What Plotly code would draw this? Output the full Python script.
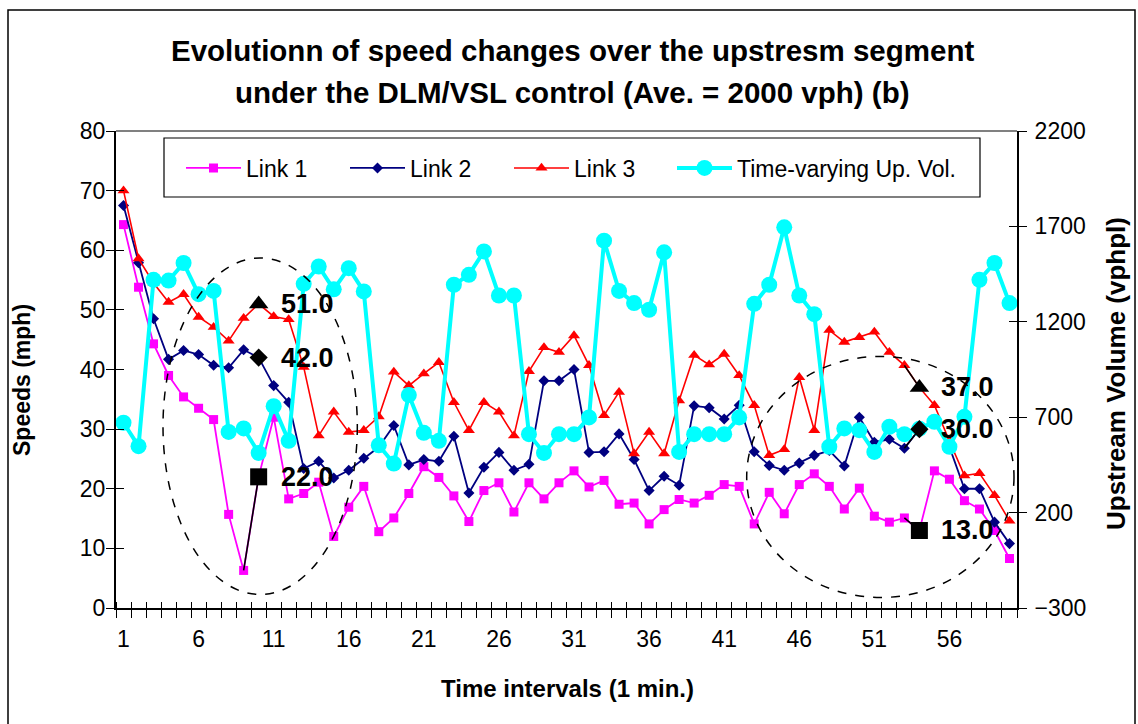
import plotly.graph_objects as go

# Time intervals (1-minute steps)
intervals = list(range(1, 61))
x_tick_vals = [1, 6, 11, 16, 21, 26, 31, 36, 41, 46, 51, 56]

# Link speeds (mph)
link1 = [64.3, 53.8, 44.3, 39.0, 35.4, 33.5, 31.6, 15.7, 6.3, 22.0,
         32.0, 18.3, 19.2, 21.1, 12.0, 16.9, 20.4, 12.8, 15.1, 19.2,
         23.7, 21.9, 18.8, 14.5, 19.7, 21.0, 16.1, 21.0, 18.3, 21.0,
         23.0, 20.3, 21.4, 17.4, 17.6, 14.1, 16.5, 18.2, 17.6, 18.9,
         20.7, 20.4, 14.1, 19.4, 15.8, 20.7, 22.5, 20.4, 16.6, 20.1,
         15.4, 14.4, 15.1, 13.0, 23.0, 21.6, 18.0, 16.6, 13.0, 8.3]
link2 = [67.5, 57.9, 48.5, 41.7, 43.2, 42.5, 40.7, 40.3, 43.3, 42.0,
         37.3, 34.5, 23.4, 24.6, 21.8, 23.1, 25.1, 27.0, 30.6, 24.0,
         24.9, 24.6, 28.8, 19.3, 23.6, 26.1, 23.1, 24.1, 38.1, 38.1,
         40.0, 26.1, 26.2, 29.2, 24.9, 19.7, 22.1, 20.6, 33.9, 33.6,
         31.7, 34.0, 26.2, 23.9, 23.1, 24.3, 25.6, 26.4, 23.8, 32.0,
         27.8, 28.3, 26.8, 30.0, 31.0, 27.0, 20.0, 20.0, 14.4, 10.8]
link3 = [70.0, 58.6, 54.5, 51.3, 52.6, 48.8, 47.1, 44.8, 48.6, 51.0,
         48.9, 48.4, 40.4, 28.9, 32.9, 29.5, 29.8, 32.1, 39.6, 37.3,
         39.3, 41.2, 34.5, 29.8, 34.5, 32.9, 28.9, 39.7, 43.7, 42.9,
         45.7, 40.7, 32.3, 36.2, 25.9, 29.5, 25.9, 34.8, 42.4, 40.8,
         42.6, 39.0, 34.0, 25.6, 26.6, 38.7, 29.8, 46.6, 44.6, 45.4,
         46.3, 42.9, 40.7, 37.0, 34.0, 28.0, 22.2, 22.6, 18.9, 14.6]

# Time-varying upstream volume (vphpl)
up_volume = [671, 548, 1420, 1416, 1508, 1345, 1362, 623, 641, 513,
             758, 576, 1399, 1490, 1370, 1481, 1359, 553, 457, 816,
             618, 576, 1394, 1446, 1569, 1338, 1338, 611, 513, 611,
             611, 699, 1625, 1362, 1298, 1263, 1564, 518, 611, 611,
             611, 699, 1294, 1394, 1695, 1338, 1240, 545, 641, 632,
             518, 650, 611, 640, 676, 545, 702, 1420, 1508, 1298]

# Intervals whose speeds are highlighted and labelled
highlight = [10, 54]

FONT = "Arial, Liberation Sans, sans-serif"

# Pixel frame of the plotting area
L, R, T, B = 116, 121, 131, 116
W, H = 1138, 724
PW, PH = W - L - R, H - T - B


def px(xp):
    return (xp - L) / PW


def py(yp):
    return (H - B - yp) / PH


fig = go.Figure()

series = [
    ("Link 1", link1, "#FF00FF", "square", 9, 1.8),
    ("Link 2", link2, "#000080", "diamond", 8.5, 1.8),
    ("Link 3", link3, "#FF0000", "triangle-up", 10.5, 1.6),
]
for name, vals, color, sym, size, lw in series:
    fig.add_trace(go.Scatter(
        x=intervals, y=vals, name=name, mode="lines+markers",
        line=dict(color=color, width=lw),
        marker=dict(symbol=sym, size=size, color=color, line=dict(width=0)),
        xaxis="x", yaxis="y", legend="legend"))

fig.add_trace(go.Scatter(
    x=intervals, y=up_volume, name="Time-varying Up. Vol.", mode="lines+markers",
    line=dict(color="#00FFFF", width=4),
    marker=dict(symbol="circle", size=16, color="#00FFFF", line=dict(width=0)),
    xaxis="x", yaxis="y2", legend="legend2"))

# Black segments leading into highlighted points
segs = [(link1, 10), (link1, 54), (link2, 54), (link3, 54)]
for vals, i in segs:
    fig.add_trace(go.Scatter(
        x=[i - 1, i], y=[vals[i - 2], vals[i - 1]], mode="lines",
        line=dict(color="black", width=1.6), showlegend=False,
        hoverinfo="skip", xaxis="x2", yaxis="y3"))

# Black highlighted markers
for vals, sym, size in [(link1, "square", 17), (link2, "diamond", 14),
                        (link3, "triangle-up", 17)]:
    fig.add_trace(go.Scatter(
        x=highlight, y=[vals[i - 1] for i in highlight], mode="markers",
        marker=dict(symbol=sym, size=size, color="black", line=dict(width=0)),
        showlegend=False, hoverinfo="skip", xaxis="x2", yaxis="y3"))

# Carrier for the inner tick marks of the right axis
fig.add_trace(go.Scatter(x=[], y=[], showlegend=False, hoverinfo="skip",
                         xaxis="x", yaxis="y4"))

annotations = []
for vals in (link1, link2, link3):
    for i in highlight:
        v = vals[i - 1]
        annotations.append(dict(
            x=i, y=v, xref="x", yref="y", text=f"{v:.1f}", showarrow=False,
            xanchor="left", yanchor="middle", xshift=20,
            font=dict(family=FONT, size=27, color="black", weight="bold")))

title_font = dict(family=FONT, size=29.5, color="black", weight="bold")
annotations += [
    dict(x=px(572), y=py(51), xref="paper", yref="paper", showarrow=False,
         text="Evolutionn of speed changes over the upstresm segment",
         font=title_font, xanchor="center", yanchor="middle"),
    dict(x=px(572), y=py(93), xref="paper", yref="paper", showarrow=False,
         text="under the DLM/VSL control (Ave. = 2000 vph) (b)",
         font=title_font, xanchor="center", yanchor="middle"),
    dict(x=px(22), y=py(380), xref="paper", yref="paper", showarrow=False,
         text="Speeds (mph)", textangle=-90,
         font=dict(family=FONT, size=23, color="black", weight="bold"),
         xanchor="center", yanchor="middle"),
    dict(x=px(1116), y=py(374), xref="paper", yref="paper", showarrow=False,
         text="Upstream Volume (vphpl)", textangle=-90,
         font=dict(family=FONT, size=26, color="black", weight="bold"),
         xanchor="center", yanchor="middle"),
    dict(x=px(567), y=py(688), xref="paper", yref="paper", showarrow=False,
         text="Time intervals (1 min.)",
         font=dict(family=FONT, size=24, color="black", weight="bold"),
         xanchor="center", yanchor="middle"),
]

shapes = [
    # chart frame
    dict(type="rect", xref="paper", yref="paper",
         x0=px(8), x1=px(1135), y0=py(10), y1=py(740),
         line=dict(color="black", width=1.5), fillcolor="rgba(0,0,0,0)",
         layer="below"),
    # plot-area top border
    dict(type="line", xref="paper", yref="paper", x0=0, x1=1, y0=1, y1=1,
         line=dict(color="#808080", width=2), layer="below"),
    # legend box
    dict(type="rect", xref="paper", yref="paper",
         x0=px(164), x1=px(980), y0=py(138), y1=py(197),
         line=dict(color="black", width=1.2), fillcolor="white", layer="below"),
    # dashed ellipses around the highlighted periods
    dict(type="circle", xref="x", yref="y", x0=3.63, x1=16.57, y0=2.27, y1=58.7,
         line=dict(color="black", width=1.5, dash="dash"), layer="above"),
    dict(type="circle", xref="x", yref="y", x0=42.5, x1=60.3, y0=1.76, y1=42.2,
         line=dict(color="black", width=1.5, dash="dash"), layer="above"),
]

tick_font = dict(family=FONT, size=23, color="black")
legend_font = dict(family=FONT, size=23, color="black")

fig.update_layout(
    width=W, height=H,
    margin=dict(l=L, r=R, t=T, b=B, pad=0),
    paper_bgcolor="white", plot_bgcolor="white",
    font=dict(family=FONT, color="black"),
    showlegend=True,
    legend=dict(orientation="h", x=px(181), y=py(168), xanchor="left",
                yanchor="middle", bgcolor="rgba(0,0,0,0)", borderwidth=0,
                font=legend_font, entrywidth=94, itemwidth=55),
    legend2=dict(orientation="h", x=px(672), y=py(168), xanchor="left",
                 yanchor="middle", bgcolor="rgba(0,0,0,0)", borderwidth=0,
                 font=legend_font, itemwidth=55),
    annotations=annotations,
    shapes=shapes,
    xaxis=dict(range=[0.5, 60.5], tickmode="array", tickvals=x_tick_vals,
               ticktext=[str(v) for v in x_tick_vals],
               ticks="outside", ticklen=0, tickfont=tick_font,
               ticklabelstandoff=9,
               minor=dict(tickmode="linear", tick0=0.5, dtick=1,
                          ticks="outside", ticklen=8, tickcolor="black",
                          tickwidth=1),
               showline=True, linecolor="black", linewidth=2,
               showgrid=False, zeroline=False, fixedrange=True),
    xaxis2=dict(range=[0.5, 60.5], overlaying="x", anchor="y3",
                showticklabels=False, ticks="", showline=False,
                minor=dict(tickmode="linear", tick0=0.5, dtick=1,
                           ticks="inside", ticklen=6, tickcolor="black",
                           tickwidth=1),
                showgrid=False, zeroline=False),
    yaxis=dict(range=[0, 80], tickmode="linear", tick0=0, dtick=10,
               ticks="outside", ticklen=8, tickcolor="black", tickwidth=1,
               tickfont=tick_font, ticklabelstandoff=-4,
               showline=True, linecolor="black",
               linewidth=2, showgrid=False, zeroline=False),
    yaxis2=dict(range=[-300, 2200], tickmode="linear", tick0=-300, dtick=500,
                overlaying="y", side="right", anchor="x",
                ticks="outside", ticklen=8, tickcolor="black", tickwidth=1,
                tickfont=tick_font, ticklabelstandoff=3,
                showline=True, linecolor="black", linewidth=2,
                showgrid=False, zeroline=False),
    yaxis3=dict(range=[0, 80], overlaying="y", anchor="x2", side="left",
                tickmode="linear", tick0=0, dtick=10, ticks="inside",
                ticklen=8, tickcolor="black", tickwidth=1,
                showticklabels=False, showline=False, showgrid=False,
                zeroline=False),
    yaxis4=dict(range=[-300, 2200], overlaying="y", anchor="x", side="right",
                tickmode="linear", tick0=-300, dtick=500, ticks="inside",
                ticklen=8, tickcolor="black", tickwidth=1,
                showticklabels=False, showline=False, showgrid=False,
                zeroline=False),
)

fig.write_html("out.html")
